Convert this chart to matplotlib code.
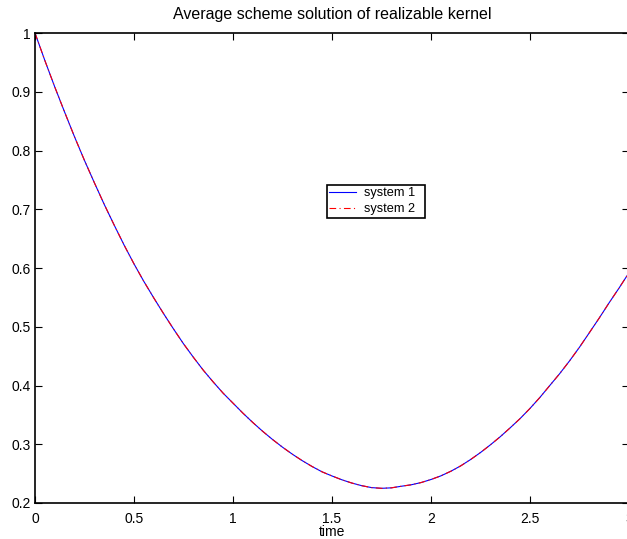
import matplotlib
matplotlib.use("Agg")
import matplotlib.pyplot as plt

plt.rcParams['font.family'] = ['Liberation Sans', 'DejaVu Sans']

title = "Average scheme solution of realizable kernel"
xlabel = "time"
series_names = ["system 1", "system 2"]

t = [0.00, 0.05, 0.10, 0.15, 0.20, 0.25, 0.30, 0.35, 0.40, 0.45,
     0.50, 0.55, 0.60, 0.65, 0.70, 0.75, 0.80, 0.85, 0.90, 0.95,
     1.00, 1.05, 1.10, 1.15, 1.20, 1.25, 1.30, 1.35, 1.40, 1.45,
     1.50, 1.55, 1.60, 1.65, 1.70, 1.75, 1.80, 1.85, 1.90, 1.95,
     2.00, 2.05, 2.10, 2.15, 2.20, 2.25, 2.30, 2.35, 2.40, 2.45,
     2.50, 2.55, 2.60, 2.65, 2.70, 2.75, 2.80, 2.85, 2.90, 2.95, 3.00]
system1 = [1.000, 0.953, 0.908, 0.865, 0.823, 0.783, 0.745, 0.708, 0.673, 0.639,
           0.607, 0.577, 0.549, 0.522, 0.496, 0.471, 0.448, 0.426, 0.406, 0.387,
           0.370, 0.353, 0.337, 0.322, 0.308, 0.295, 0.283, 0.272, 0.262, 0.253,
           0.246, 0.2395, 0.234, 0.2295, 0.2262, 0.2250, 0.2258, 0.2285, 0.231, 0.2348,
           0.240, 0.2462, 0.254, 0.2632, 0.274, 0.2859, 0.299, 0.3129, 0.328, 0.3437,
           0.361, 0.3797, 0.400, 0.4202, 0.442, 0.4652, 0.490, 0.515, 0.541, 0.566, 0.592]
system2 = list(system1)

xticks = [0, 0.5, 1, 1.5, 2, 2.5, 3]
xticklabels = ["0", "0.5", "1", "1.5", "2", "2.5", "3"]
yticks = [0.2, 0.3, 0.4, 0.5, 0.6, 0.7, 0.8, 0.9, 1.0]
yticklabels = ["0.2", "0.3", "0.4", "0.5", "0.6", "0.7", "0.8", "0.9", "1"]

fig = plt.figure(figsize=(6.27, 5.39), dpi=100)
ax = fig.add_axes([35/627, 36/539, 594/627, 470/539])

ax.plot(t, system1, color=(0, 0, 1), lw=0.8, label=series_names[0])
ax.plot(t, system2, color=(1, 0, 0), lw=0.8, ls='-.', dashes=(6, 3, 1, 3), label=series_names[1])

ax.set_xlim(0, 3)
ax.set_ylim(0.2, 1.0)
ax.set_xticks(xticks)
ax.set_xticklabels(xticklabels)
ax.set_yticks(yticks)
ax.set_yticklabels(yticklabels)
ax.tick_params(direction='in', length=5, width=0.8, labelsize=10,
               top=True, right=True, pad=3)
ax.tick_params(axis='x', pad=6.5)
for s in ax.spines.values():
    s.set_linewidth(1.2)

ax.set_title(title, fontsize=11.5, pad=10)
ax.set_xlabel(xlabel, fontsize=10, labelpad=-1)

leg = ax.legend(loc='lower left', bbox_to_anchor=(0.491, 0.607, 0.1655, 0.073),
                mode='expand', fontsize=9.2, frameon=True, fancybox=False,
                edgecolor='black', framealpha=1, borderpad=0.2,
                handlelength=2.1, handletextpad=0.6, labelspacing=0.3,
                borderaxespad=0)
leg.get_frame().set_linewidth(1.2)

fig.savefig("out.png", dpi=100)
